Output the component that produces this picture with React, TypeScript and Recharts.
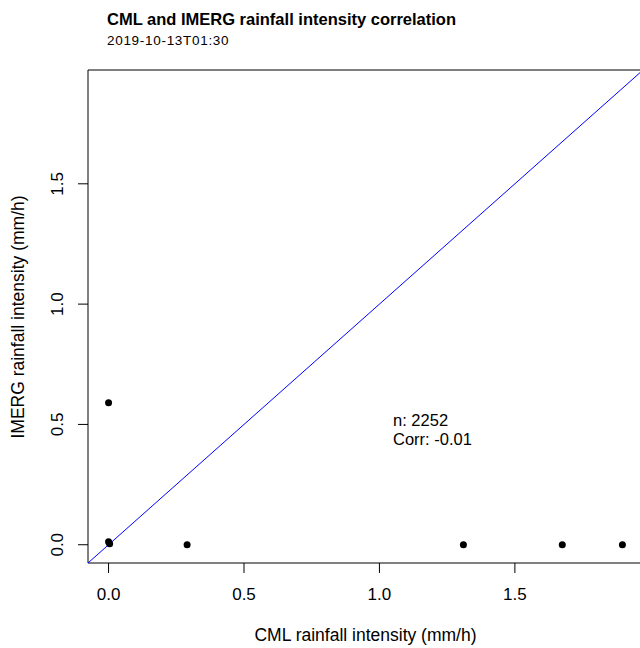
import React from "react";
import {
  ScatterChart,
  Scatter,
  XAxis,
  YAxis,
  ReferenceLine,
  ReferenceArea,
} from "recharts";

// CML (x) vs IMERG (y) rainfall intensity, mm/h
const cmlValues = [0, 0, 0.004, 0.29, 1.31, 1.675, 1.897];
const imergValues = [0.59, 0.012, 0.004, 0, 0, 0, 0];
const xTicks = [0, 0.5, 1, 1.5];
const yTicks = [0, 0.5, 1, 1.5];
// same limits on both axes (R style 4% padding around 0..1.897)
const axisLimits = [-0.0759, 1.973];
const nPoints = 2252;
const corr = -0.01;

const points = cmlValues.map((x, i) => ({ x, y: imergValues[i] }));

const FONT = '"Liberation Sans", Arial, sans-serif';

const Dot = (props: any) => (
  <circle cx={props.cx} cy={props.cy} r={3.5} fill="#000" />
);

const YTick = ({ x, y, payload }: any) => (
  <text
    x={x}
    y={y}
    transform={`rotate(-90 ${x} ${y})`}
    textAnchor="middle"
    fontSize={17}
    fill="#000"
    fontFamily={FONT}
  >
    {payload.value.toFixed(1)}
  </text>
);

export default function App() {
  const [lo, hi] = axisLimits;
  return (
    <div
      style={{
        position: "absolute",
        left: 0,
        top: 0,
        width: 640,
        height: 648,
        overflow: "hidden",
        background: "#fff",
        fontFamily: FONT,
        color: "#000",
      }}
    >
      <div style={{ position: "absolute", left: 107, top: 10, fontSize: 16.5, fontWeight: "bold", whiteSpace: "nowrap" }}>
        CML and IMERG rainfall intensity correlation
      </div>
      <div style={{ position: "absolute", left: 107, top: 33, fontSize: 13.5, letterSpacing: 0.7, whiteSpace: "nowrap" }}>
        2019-10-13T01:30
      </div>

      <ScatterChart
        width={660}
        height={648}
        margin={{ top: 70, right: 17, left: 0, bottom: 0 }}
      >
        <XAxis
          type="number"
          dataKey="x"
          domain={axisLimits}
          ticks={xTicks}
          allowDataOverflow
          height={85}
          tickSize={10}
          tickMargin={15}
          tickFormatter={(v: number) => v.toFixed(1)}
          tick={{ fontSize: 17, fill: "#000", fontFamily: FONT }}
          tickLine={{ stroke: "#000" }}
          axisLine={false}
        />
        <YAxis
          type="number"
          dataKey="y"
          domain={axisLimits}
          ticks={yTicks}
          allowDataOverflow
          width={88}
          tickSize={10}
          tickMargin={15}
          tick={<YTick />}
          tickLine={{ stroke: "#000" }}
          axisLine={false}
        />
        <ReferenceArea
          x1={lo}
          x2={hi}
          y1={lo}
          y2={hi}
          fill="none"
          fillOpacity={0}
          stroke="#000"
          strokeWidth={1}
          ifOverflow="visible"
        />
        <Scatter data={points} shape={<Dot />} isAnimationActive={false} />
        <ReferenceLine
          segment={[
            { x: lo, y: lo },
            { x: hi, y: hi },
          ]}
          stroke="#0000ff"
          strokeWidth={1}
          ifOverflow="visible"
        />
      </ScatterChart>

      <div style={{ position: "absolute", left: 393, top: 410.5, fontSize: 16.5, lineHeight: "19.5px", whiteSpace: "nowrap" }}>
        n: {nPoints}
        <br />
        Corr: {corr.toFixed(2)}
      </div>
      <div style={{ position: "absolute", left: 88, width: 555, top: 625, textAlign: "center", fontSize: 17.5, whiteSpace: "nowrap" }}>
        CML rainfall intensity (mm/h)
      </div>
      <div
        style={{
          position: "absolute",
          left: 18,
          top: 317,
          fontSize: 17.5,
          whiteSpace: "nowrap",
          transform: "translate(-50%, -50%) rotate(-90deg)",
        }}
      >
        IMERG rainfall intensity (mm/h)
      </div>
    </div>
  );
}
